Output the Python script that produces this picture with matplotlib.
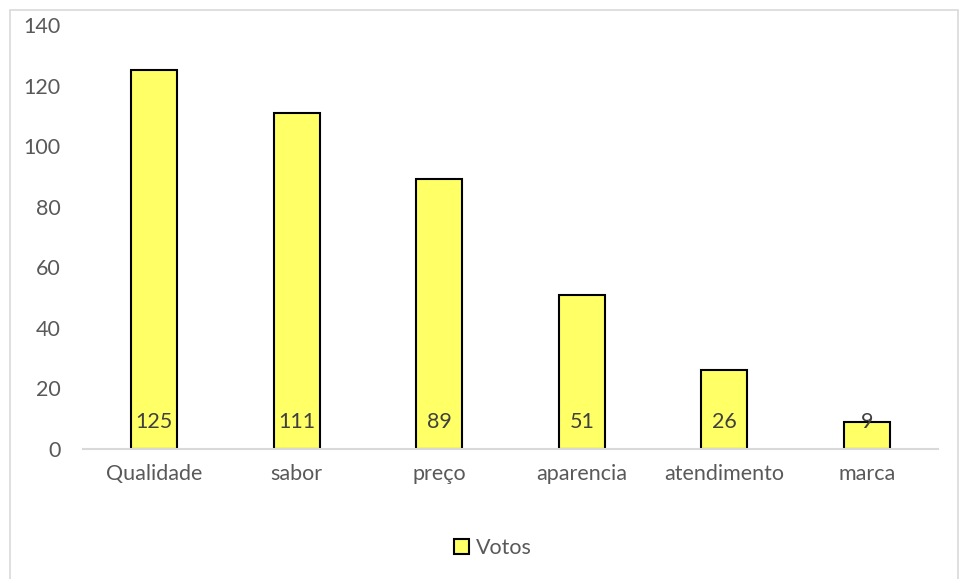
import matplotlib
matplotlib.use("Agg")
import matplotlib.pyplot as plt
from matplotlib.patches import Rectangle

categories = ["Qualidade", "sabor", "preço", "aparencia", "atendimento", "marca"]
votos = [125, 111, 89, 51, 26, 9]
yticks = [0, 20, 40, 60, 80, 100, 120, 140]
series_name = "Votos"

plt.rcParams['font.family'] = ['Lato', 'DejaVu Sans']
W, H = 959, 579
fig = plt.figure(figsize=(W/100, H/100), dpi=100)
fig.patch.set_facecolor("white")

# outer chart border
fig.add_artist(Rectangle((10/W, -0.05), 947.5/W, (H-10)/H + 0.05, transform=fig.transFigure,
                         fill=False, edgecolor="#D9D9D9", linewidth=1.2))

ax = fig.add_axes([83/W, (H-449)/H, (938-83)/W, (449-25)/H])
x = range(len(categories))
bars = ax.bar(x, votos, width=0.32, color="#FFFF66", edgecolor="black", linewidth=1.5,
              label=series_name, zorder=3)
ax.set_xlim(-0.5, len(categories)-0.5)
ax.set_ylim(0, 140)
ax.set_yticks(yticks)
ax.set_xticks(list(x))
ax.set_xticklabels(categories)
for s in ["top", "right", "left"]:
    ax.spines[s].set_visible(False)
ax.spines["bottom"].set_color("#D9D9D9")
ax.spines["bottom"].set_linewidth(1.5)
ax.spines["bottom"].set_zorder(4)
ax.tick_params(axis="both", length=0, labelsize=15.5, colors="#595959")
ax.tick_params(axis="x", pad=11)
ax.tick_params(axis="y", pad=16)

for i, v in enumerate(votos):
    ax.annotate(str(v), (i, 0), xytext=(0, 27), textcoords="offset pixels",
                ha="center", va="center", fontsize=15.5, color="#404040", zorder=5)

leg = fig.legend(handles=[bars], labels=[series_name], loc="center",
                 bbox_to_anchor=(493/W, (H-548)/H), frameon=False, fontsize=15.5,
                 handlelength=0.7, handleheight=0.7, handletextpad=0.3)
for t in leg.get_texts():
    t.set_color("#595959")

fig.savefig("out.png", dpi=100)
